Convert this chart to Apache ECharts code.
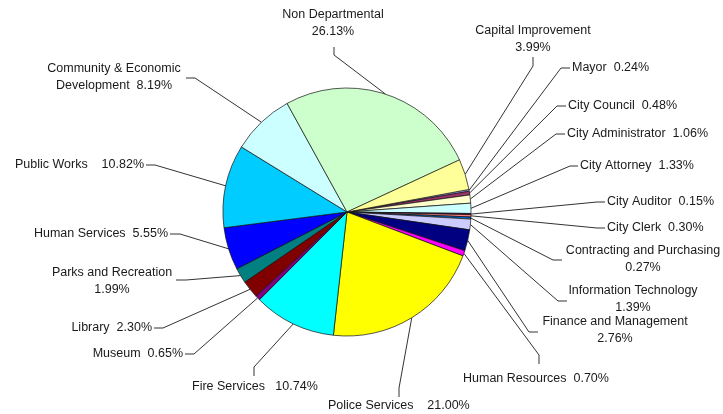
<!DOCTYPE html>
<html>
<head>
<meta charset="utf-8">
<script src="https://cdn.jsdelivr.net/npm/echarts@6/dist/echarts.min.js"></script>
<style>
html,body{margin:0;padding:0;background:#fff;}
#chart{width:723px;height:414px;}
</style>
</head>
<body>
<div id="chart"></div>
<script>
// Data (percent of budget), in drawing order (clockwise)
var categories = ['Mayor','City Council','City Administrator','City Attorney','City Auditor','City Clerk',
  'Contracting and Purchasing','Information Technology','Finance and Management','Human Resources',
  'Police Services','Fire Services','Museum','Library','Parks and Recreation','Human Services',
  'Public Works','Community & Economic Development','Non Departmental','Capital Improvement'];
var values = [0.24,0.48,1.06,1.33,0.15,0.30,0.27,1.39,2.76,0.70,21.00,10.74,0.65,2.30,1.99,5.55,10.82,8.19,26.13,3.99];
// Label text: how name and value are joined
var labelNames = ['Mayor','City Council','City Administrator','City Attorney','City Auditor','City Clerk',
  'Contracting and Purchasing','Information Technology','Finance and Management','Human Resources',
  'Police Services','Fire Services','Museum','Library','Parks and Recreation','Human Services',
  'Public Works','Community & Economic\nDevelopment','Non Departmental','Capital Improvement'];
var separators = ['  ','  ','  ','  ','  ','  ','\n','\n','\n','  ','    ','   ','  ','  ','\n','  ','    ','  ','\n','\n'];

// Styles
var colors = ['#9999FF','#993366','#FFFFCC','#CCFFFF','#660066','#FF8080','#0066CC','#CCCCFF','#000080','#FF00FF',
  '#FFFF00','#00FFFF','#800080','#800000','#008080','#0000FF','#00CCFF','#CCFFFF','#CCFFCC','#FFFF99'];
// label layout: [x, y, align, bend point, end point]
var labelPos = [
  [572,68,'left',[561,68],[570,68]],
  [568,106,'left',[557,106],[566,106]],
  [567,134,'left',[556,134],[565,134]],
  [580,166,'left',[570,166],[578,166]],
  [607,202,'left',[597,202],[605,202]],
  [607,228,'left',[597,228],[605,228]],
  [643,259,'center',[553,260],[562,260]],
  [633,299,'center',[558,301],[567,301]],
  [615,330,'center',[529,332],[538,332]],
  [463,379,'left',[539,355],[539,364]],
  [328,406,'left',[399,388],[399,397]],
  [192,387,'left',[254,367],[254,376]],
  [183,354,'right',[194,354],[185,354]],
  [152,328,'right',[163,328],[154,328]],
  [112,281,'center',[186,280],[176,280]],
  [168,234,'right',[180,234],[170,234]],
  [144,165,'right',[155,165],[146,165]],
  [114,77,'center',[195,78],[186,78]],
  [333,23,'center',[334,55],[334,47]],
  [533,39,'center',[533,66],[533,57]]
];

var seriesData = categories.map(function(c,i){
  return {name:c, value:values[i], itemStyle:{color:colors[i]}};
});

var chart = echarts.init(document.getElementById('chart'), null, {renderer:'canvas'});
chart.setOption({
  backgroundColor:'#fff',
  animation:false,
  series:[{
    type:'pie',
    center:[347,212],
    radius:124,
    startAngle:10.5,
    clockwise:true,
    data:seriesData,
    itemStyle:{borderColor:'#111',borderWidth:0.7},
    emphasis:{disabled:true},
    label:{
      show:true,
      position:'outside',
      fontFamily:'Liberation Sans, Arial, sans-serif',
      fontSize:12.5,
      lineHeight:17,
      color:'#1a1a1a',
      formatter:function(p){
        var i = p.dataIndex;
        return labelNames[i] + separators[i] + values[i].toFixed(2) + '%';
      }
    },
    labelLine:{show:true,length:10,length2:10,lineStyle:{color:'#333',width:1}},
    labelLayout:function(params){
      var L = labelPos[params.dataIndex];
      var p0 = params.labelLinePoints ? params.labelLinePoints[0] : L[3];
      return {
        x:L[0], y:L[1], align:L[2], verticalAlign:'middle',
        labelLinePoints:[p0, L[3], L[4]]
      };
    }
  }]
});
</script>
</body>
</html>
